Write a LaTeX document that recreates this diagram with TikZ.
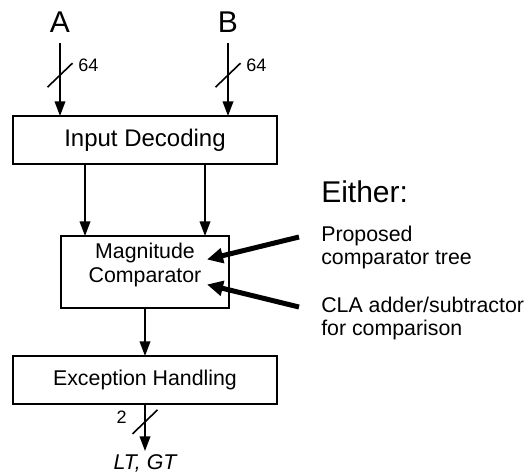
\documentclass[tikz,border=0pt]{standalone}
\usepackage{fontspec}
\setmainfont{Liberation Sans}
\usepackage{tikz}
\usetikzlibrary{arrows.meta, positioning, calc}

\begin{document}
\begin{tikzpicture}[
  x=0.75pt, y=-0.75pt,
  block/.style={rectangle, draw, line width=1.2pt, inner sep=0pt, outer sep=0pt, minimum width=198pt, minimum height=36pt, font=\fontsize{16}{18}\selectfont},
  magbox/.style={block, align=center, minimum width=126pt, minimum height=54pt},
  sig/.style={inner xsep=0pt, inner ysep=7.5pt, font=\fontsize{22.5}{27}\selectfont},
  buswidth/.style={inner sep=0pt, font=\fontsize{13.5}{16}\selectfont},
  note/.style={inner sep=0pt, align=left, font=\fontsize{16}{17.3}\selectfont},
  arrow/.style={-{Triangle[length=11pt, width=8pt]}, line width=1.2pt},
  slash/.style={line width=1.2pt},
  choice/.style={-{Triangle[length=12pt, width=11pt]}, line width=3.75pt},
]
\useasboundingbox (0,0) rectangle (524,472);

% Inputs
\node[sig] (A) at (60,22.5) {A};
\node[sig] (B) at (228,22.5) {B};

% Blocks
\node[block, font=\fontsize{18}{21}\selectfont] (dec) at (145,140) {Input Decoding};
\node[magbox, below=54pt of dec] (mag) {Magnitude\\Comparator\rule[-13.2pt]{0pt}{13.2pt}};
\node[block, below=36pt of mag] (exc) {Exception Handling};
\node[inner xsep=0pt, inner ysep=2.25pt, below=35.25pt of exc, font=\fontsize{16}{18}\selectfont\itshape] (out) {LT, GT};

% Alternatives
\node[sig, inner sep=0pt, anchor=base west] (either) at (321,202) {Either:};
\node[note, anchor=north west] (prop) at (321,226) {Proposed\\comparator tree};
\node[note, anchor=north west] (cla) at (321,297) {CLA adder/subtractor\\for comparison};

% Input buses
\draw[arrow] (A) -- coordinate[pos=0.44] (sA) (A |- dec.north);
\draw[arrow] (B) -- coordinate[pos=0.44] (sB) (B |- dec.north);
\draw[slash] ([shift={(-12.5,12)}]sA) -- ([shift={(12.5,-12)}]sA);
\draw[slash] ([shift={(-12.5,12)}]sB) -- ([shift={(12.5,-12)}]sB);
\node[buswidth, anchor=west] at ([shift={(18,-10)}]sA) {64};
\node[buswidth, anchor=west] at ([shift={(18,-10)}]sB) {64};

% Internal arrows
\draw[arrow] ([xshift=-45pt]mag.north |- dec.south) -- ([xshift=-45pt]mag.north);
\draw[arrow] ([xshift=45pt]mag.north |- dec.south) -- ([xshift=45pt]mag.north);
\draw[arrow] (mag.south) -- (exc.north);

% Output bus
\draw[arrow] (exc.south) -- coordinate[pos=0.38] (sOut) (out.north);
\draw[slash] ([shift={(-12.5,12)}]sOut) -- ([shift={(12.5,-12)}]sOut);
\node[buswidth, anchor=east] at ([shift={(-18,-5)}]sOut) {2};

% Choice arrows
\coordinate (tProp) at ([shift={(-22,11)}]prop.north west);
\coordinate (tCla) at ([shift={(-22,10)}]cla.north west);
\coordinate (hProp) at ([shift={(-22,-12.5)}]mag.east);
\coordinate (hCla) at ([shift={(-22,12.5)}]mag.east);
\draw[choice] (tProp) -- (hProp);
\draw[choice] (tCla) -- (hCla);

\end{tikzpicture}
\end{document}
